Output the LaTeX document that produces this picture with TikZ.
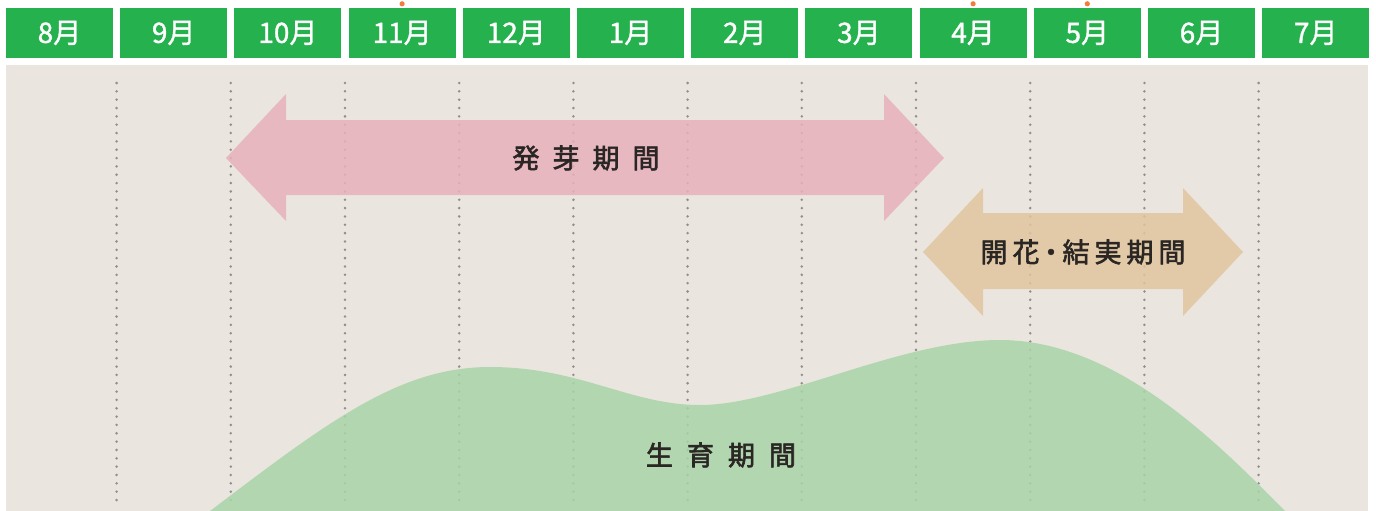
\documentclass[tikz,border=0pt]{standalone}
\usepackage{fontspec}
\newfontfamily\jpfont[FakeBold=1.2]{Noto Sans CJK JP}
\newfontfamily\jplabel[FakeBold=2.2]{Noto Sans CJK JP}
\usetikzlibrary{calc}
\definecolor{monthgreen}{HTML}{25B24E}
\definecolor{panelgray}{HTML}{EAE6DF}
\definecolor{dotgray}{HTML}{928E8C}
\definecolor{markorange}{HTML}{F07D3C}
\definecolor{sproutpink}{RGB}{232,177,188}
\definecolor{flowertan}{RGB}{225,196,158}
\definecolor{growgreen}{RGB}{169,212,168}
\definecolor{labeltext}{HTML}{2A2624}

\begin{document}
\begin{tikzpicture}[x=1pt,y=-1pt,
  month/.style={fill=monthgreen,text=white,minimum width=107pt,minimum height=50pt,inner sep=0pt,
    font=\jpfont\fontsize{28pt}{28pt}\selectfont},
  period/.style={text=labeltext,inner sep=0pt,font=\jplabel\fontsize{27pt}{27pt}\selectfont},
  guide/.style={dotgray,line width=2.8pt,line cap=round,dash pattern=on 0pt off 8.34pt},
  band/.style={fill opacity=0.85}]
  \useasboundingbox (0,0) rectangle (1376,511);
  \fill[white] (0,0) rectangle (1376,511);
  \fill[panelgray] (6,65) rectangle (1368,511); % 背景
  % 月の見出し
  \foreach \m [count=\i from 0] in {8,9,10,11,12,1,2,3,4,5,6,7}
    \node[month] (m\m) at (59.5+114.2*\i,33) {{\m}月};
  \foreach \m in {11,4,5}
    \fill[markorange] ($(m\m.north)+(0,-4)$) circle[radius=2.6pt];
  % 区切りの点線
  \foreach \i in {1,...,11}
    \draw[guide] (2.4+114.2*\i,83) -- (2.4+114.2*\i,500);
  % 生育期間
  \fill[growgreen,band] (210,511) .. controls (330,420) and (400,367) .. (490,367)
    .. controls (580,367) and (630,405) .. (700,405)
    .. controls (780,405) and (900,340) .. (1000,340)
    .. controls (1115,340) and (1215,440) .. (1285,511) -- cycle;
  % 発芽期間
  \fill[sproutpink,band] (226,158) -- (286,94) -- (286,120) -- (884,120) -- (884,94) -- (944,158)
    -- (884,221) -- (884,195) -- (286,195) -- (286,221) -- cycle;
  % 開花・結実期間
  \fill[flowertan,band] (923,252) -- (983,188) -- (983,213) -- (1183,213) -- (1183,188) -- (1243,252)
    -- (1183,316) -- (1183,289) -- (983,289) -- (983,316) -- cycle;
  \node[period] (sprout) at (586,158) {発\hspace{13pt}芽\hspace{13pt}期\hspace{13pt}間};
  \node[period] (bloom) at (1083,252) {開\hspace{5pt}花\hspace{-2pt}・\hspace{-2pt}結\hspace{5pt}実\hspace{5pt}期\hspace{5pt}間};
  \node[period] (grow) at (721,455) {生\hspace{14pt}育\hspace{14pt}期\hspace{14pt}間};
\end{tikzpicture}
\end{document}
